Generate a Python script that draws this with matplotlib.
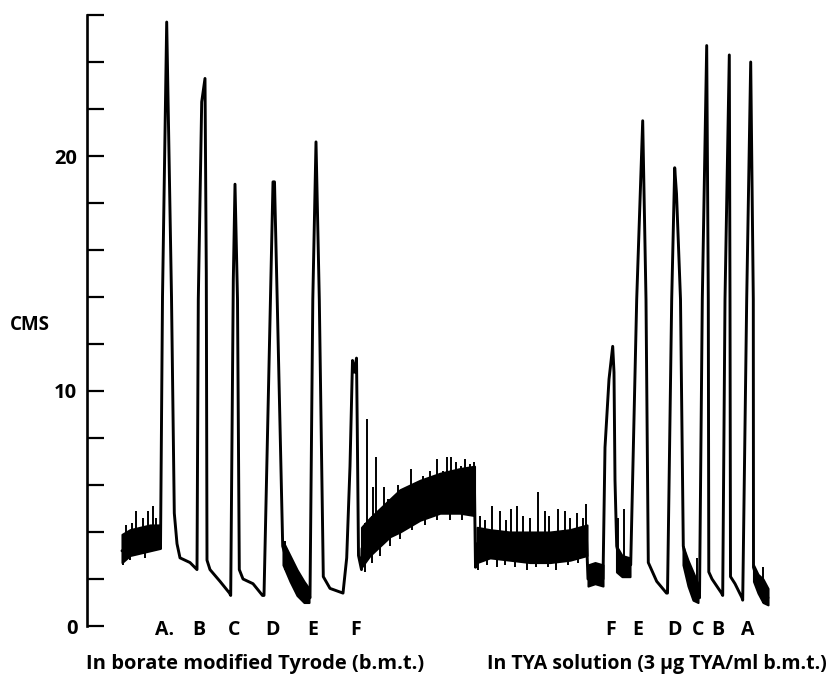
import numpy as np
import matplotlib.pyplot as plt

plt.rcParams['font.family'] = ['Open Sans', 'DejaVu Sans']
plt.rcParams['font.weight'] = 'bold'

# main pen trace: time along the record and height in cm
trace_t = [122, 160,
           160.5, 162.5, 166.7, 171.5, 174.3, 177, 180, 190, 197,
           198.3, 201.7, 205, 206.3, 207, 210, 220, 229.5,
           230.7, 233.3, 235, 237.5, 239.3, 243, 253, 262.5,
           264, 270.5, 273, 274.5, 277.2, 282.7, 288, 295, 302, 309,
           310, 312.8, 316, 319.3, 323.3, 330, 343, 346.7,
           350, 352.5, 354.5, 356.5, 357.3, 358.5, 361.5,
           362, 380, 400, 420, 440, 460, 474.5, 475.5, 477.5, 500, 530, 560, 586.5,
           588, 592, 596, 603,
           605, 609, 612.7, 614, 615, 616.7, 620, 625, 630.7,
           636.7, 642.7, 646, 648.3, 656.7, 666.5,
           667.5, 671.7, 674.7, 676.5, 680.5, 683.3, 690, 698.5,
           699.5, 702.3, 706.7, 708.3, 708.8, 712, 721.5,
           722.7, 725, 729.3, 730, 730.5, 735, 742,
           742.7, 746.7, 750.7, 753.3, 753.5, 757, 762, 768]
trace_v = [3.2, 3.7,
           3.3, 14.0, 25.7, 14.0, 4.8, 3.5, 2.9, 2.7, 2.4,
           13.9, 22.3, 23.3, 15.0, 2.8, 2.4, 1.9, 1.4,
           1.3, 14.7, 18.8, 13.9, 2.4, 2.0, 1.8, 1.3,
           1.3, 14.0, 18.9, 18.9, 13.9, 3.4, 2.6, 2.0, 1.6, 1.3,
           1.2, 13.9, 20.6, 13.9, 2.1, 1.6, 1.4, 2.9,
           6.8, 11.3, 10.8, 11.4, 8.3, 3.0, 2.4,
           3.3, 4.2, 4.9, 5.4, 5.7, 5.8, 5.8, 2.5, 3.5, 3.4, 3.3, 3.4, 3.7,
           2.0, 2.5, 2.0, 2.0,
           7.6, 10.5, 11.9, 10.8, 6.2, 3.4, 2.8, 2.6, 2.6,
           13.9, 21.5, 13.9, 2.7, 1.9, 1.4,
           1.4, 13.9, 19.5, 18.4, 13.9, 3.4, 2.0, 1.3,
           1.2, 13.9, 24.7, 13.9, 2.3, 2.0, 1.4,
           1.3, 13.9, 24.3, 13.9, 2.1, 1.8, 1.2,
           1.1, 13.9, 24.0, 13.9, 2.5, 2.0, 1.6, 1.2]

# noisy stretches of the record (lower / upper edge of the ink band)
start_t = [122, 130, 140, 150, 160]
start_lo = [2.7, 3.0, 3.1, 3.2, 3.3]
start_hi = [3.9, 4.1, 4.2, 4.3, 4.3]

rise_t = [361.5, 370, 380, 390, 400, 420, 440, 460, 474.5]
rise_lo = [2.5, 3.0, 3.4, 3.8, 4.0, 4.5, 4.8, 4.8, 4.7]
rise_hi = [4.2, 4.6, 5.0, 5.4, 5.8, 6.2, 6.5, 6.7, 6.8]

tya_t = [477, 490, 510, 530, 550, 570, 587]
tya_lo = [2.7, 2.9, 2.8, 2.7, 2.7, 2.8, 3.0]
tya_hi = [4.2, 4.1, 4.0, 4.0, 4.0, 4.1, 4.3]

small_t = [[283, 290, 297, 304, 309], [588, 595, 603], [616.5, 622, 630],
           [683, 688, 693, 698], [753.5, 758, 763, 768]]
small_lo = [[2.6, 1.9, 1.3, 1.0, 1.0], [1.7, 1.8, 1.7], [2.3, 2.1, 2.1],
            [2.6, 1.7, 1.1, 1.0], [1.9, 1.4, 1.0, 0.9]]
small_hi = [[3.6, 3.0, 2.4, 1.9, 1.6], [2.6, 2.7, 2.6], [3.4, 3.0, 2.9],
            [3.4, 2.8, 2.3, 1.8], [2.6, 2.2, 2.0, 1.6]]

# single pen flicks sticking out of the band (upwards)
spike_t = [126, 132, 136, 143, 148, 153, 156, 285,
           366.7, 373, 376, 384, 388, 398, 405, 411, 417, 423, 430, 437, 443,
           447, 451, 456, 461, 465, 470, 474,
           480, 485, 492, 500, 506, 511, 517, 523, 530, 538, 545, 549, 558,
           565, 570, 577, 583, 586, 618, 624, 696.7, 763]
spike_v = [4.3, 4.4, 4.9, 4.6, 4.9, 5.1, 4.6, 3.6,
           8.8, 5.9, 7.2, 5.9, 5.4, 6.0, 5.8, 6.7, 6.1, 6.4, 6.6, 7.1, 6.6,
           7.2, 7.2, 7.0, 6.8, 7.1, 6.9, 7.0,
           4.7, 4.5, 5.1, 4.9, 4.5, 5.0, 5.1, 4.7, 4.6, 5.7, 4.9, 4.7, 5.0,
           4.9, 4.6, 4.8, 4.6, 5.2, 4.6, 5.0, 2.9, 2.5]

# flicks below the band (downwards)
dip_t = [123, 130, 145, 365, 372, 380, 390, 400, 412, 425, 437, 450, 462,
         478, 487, 497, 505, 515, 527, 536, 548, 556, 568, 578]
dip_v = [2.6, 2.8, 2.9, 2.3, 2.7, 3.0, 3.4, 3.7, 4.1, 4.3, 4.5, 4.5, 4.5,
         2.4, 2.6, 2.5, 2.6, 2.5, 2.4, 2.5, 2.5, 2.4, 2.6, 2.7]

left_labels = ['A.', 'B', 'C', 'D', 'E', 'F']
left_label_t = [165, 199, 234, 273, 313, 356]
right_labels = ['F', 'E', 'D', 'C', 'B', 'A']
right_label_t = [611, 638, 675, 698, 718, 748]

fig = plt.figure(figsize=(8.37, 6.76), dpi=100)
ax = fig.add_axes([87 / 837, 50 / 676, 750 / 837, 611 / 676])
ax.set_xlim(87, 837)
ax.set_ylim(0, 26)

ink = dict(color='black', clip_on=False)
ax.plot(trace_t, trace_v, lw=2.1, solid_joinstyle='round', solid_capstyle='round', **ink)
for t, lo, hi in [(start_t, start_lo, start_hi), (rise_t, rise_lo, rise_hi),
                  (tya_t, tya_lo, tya_hi)] + list(zip(small_t, small_lo, small_hi)):
    ax.fill_between(t, lo, hi, lw=1.5, edgecolor='black', **ink)

all_band_t = start_t + rise_t + tya_t + sum(small_t, [])
all_band_lo = start_lo + rise_lo + tya_lo + sum(small_lo, [])
all_band_hi = start_hi + rise_hi + tya_hi + sum(small_hi, [])
order = np.argsort(all_band_t)
bt = np.array(all_band_t)[order]
base = np.interp(spike_t, bt, np.array(all_band_lo)[order])
ax.vlines(spike_t, base, spike_v, lw=1.4, **ink)
top = np.interp(dip_t, bt, np.array(all_band_hi)[order])
ax.vlines(dip_t, dip_v, top, lw=1.4, **ink)

# axis: left scale only
for s in ['top', 'right', 'bottom']:
    ax.spines[s].set_visible(False)
ax.spines['left'].set_linewidth(1.9)
ax.set_xticks([])
ax.set_yticks(range(0, 27, 2))
ax.set_yticklabels(['0', '', '', '', '', '10', '', '', '', '', '20', '', '', ''])
ax.tick_params(axis='y', direction='in', length=12, width=1.6, pad=7, labelsize=14.5)

ax.text(30, 12.8, 'CMS', ha='center', va='center', fontsize=13.5)

for lab, t in zip(left_labels, left_label_t):
    ax.text(t, -0.15, lab, ha='center', va='center', fontsize=14, clip_on=False)
for lab, t in zip(right_labels, right_label_t):
    ax.text(t, -0.15, lab, ha='center', va='center', fontsize=14, clip_on=False)

ax.text(255, -1.83, 'In borate modified Tyrode (b.m.t.)', ha='center', va='baseline', fontsize=14.5)
ax.text(657, -1.83, 'In TYA solution (3 \u03bcg TYA/ml b.m.t.)', ha='center', va='baseline', fontsize=14)

fig.savefig('out.png', dpi=100)
